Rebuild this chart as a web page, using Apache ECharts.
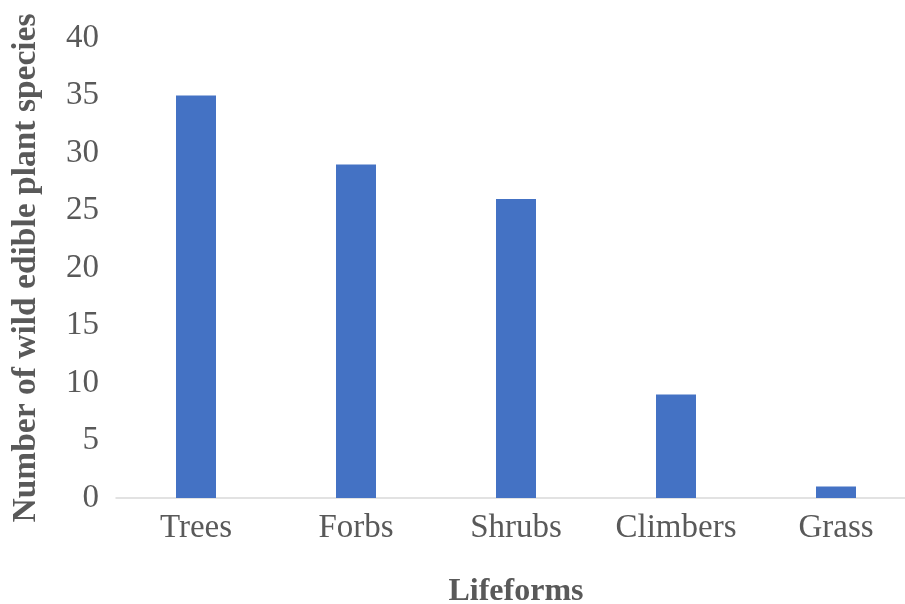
<!DOCTYPE html>
<html>
<head>
<meta charset="utf-8">
<script src="https://cdn.jsdelivr.net/npm/echarts@6/dist/echarts.min.js"></script>
<style>
  html, body { margin: 0; padding: 0; background: #fff; }
  #chart { width: 905px; height: 604px; }
</style>
</head>
<body>
<div id="chart"></div>
<script>
// Number of wild edible plant species per lifeform
const lifeforms = ['Trees', 'Forbs', 'Shrubs', 'Climbers', 'Grass'];
const speciesCounts = [35, 29, 26, 9, 1];
const yTicks = { min: 0, max: 40, interval: 5 };

const serif = '"Liberation Serif", "Times New Roman", serif';
const textColor = '#595959';

const chart = echarts.init(document.getElementById('chart'), null, { renderer: 'canvas' });
chart.setOption({
  animation: false,
  backgroundColor: '#ffffff',
  grid: { left: 116, right: -11, top: 38, bottom: 106, containLabel: false, outerBoundsMode: 'none' },
  xAxis: {
    type: 'category',
    data: lifeforms,
    name: 'Lifeforms',
    nameLocation: 'middle',
    nameGap: 78,
    nameTextStyle: { fontFamily: serif, fontSize: 32, fontWeight: 'bold', color: textColor },
    axisLine: { show: true, lineStyle: { color: '#d9d9d9', width: 1.5 } },
    axisTick: { show: false },
    axisLabel: { fontFamily: serif, fontSize: 33, color: textColor, margin: 14 },
    splitLine: { show: false }
  },
  yAxis: {
    type: 'value',
    min: yTicks.min,
    max: yTicks.max,
    interval: yTicks.interval,
    name: 'Number of wild edible plant species',
    nameLocation: 'middle',
    nameGap: 73,
    nameTextStyle: { fontFamily: serif, fontSize: 33.5, fontWeight: 'bold', color: textColor },
    axisLine: { show: false },
    axisTick: { show: false },
    axisLabel: { fontFamily: serif, fontSize: 33, color: textColor, margin: 17 },
    splitLine: { show: false }
  },
  series: [{
    type: 'bar',
    data: speciesCounts,
    barWidth: 40,
    itemStyle: { color: '#4472c4' }
  }]
});
</script>
</body>
</html>
